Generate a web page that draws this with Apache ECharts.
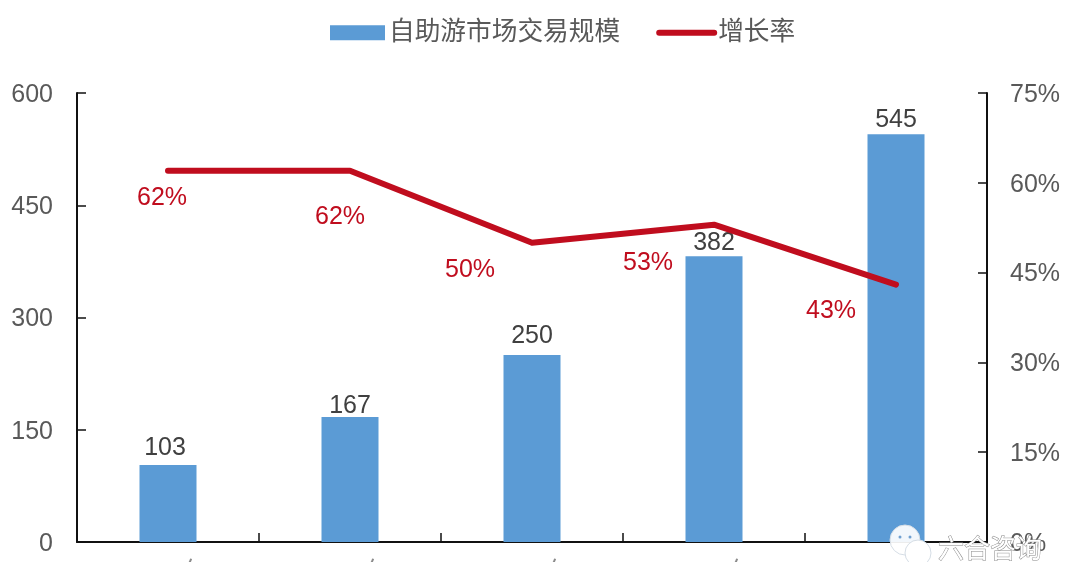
<!DOCTYPE html>
<html><head><meta charset="utf-8">
<style>html,body{margin:0;padding:0;background:#fff}#c{width:1080px;height:562px}</style>
<script src="https://cdn.jsdelivr.net/npm/echarts@6/dist/echarts.min.js"></script>
</head><body><div id="c"></div>
<script>
const categories = ['2013年','2014年','2015年','2016年','2017年'];
const marketSize = [103,167,250,382,545];
const growthRate = [62,62,50,53,43];
const rateLabelOffsets = [[-6,27],[-10,46],[-62,27],[-66,38],[-65,27]];
const barLabelOffsets = [[-3,-3],[0,3],[0,-5],[0,0],[0,-1]];

const chart = echarts.init(document.getElementById('c'));
const font = '"Liberation Sans","Noto Sans CJK SC",sans-serif';
const axisLine = {show:true,lineStyle:{color:'#111',width:2}};
const tick = {show:true,inside:true,length:9,lineStyle:{color:'#111',width:1.5}};
chart.setOption({
  animation:false,
  textStyle:{fontFamily:font},
  legend:{
    top:15,left:325,itemGap:36,itemWidth:55,itemHeight:15,
    textStyle:{fontSize:25.7,color:'#595959',fontFamily:font,padding:[0,0,0,-1]},
    data:[{name:'自助游市场交易规模',icon:'rect'},
      {name:'增长率',itemStyle:{opacity:0},lineStyle:{width:6,cap:'round',color:'#c00d1e'}}]
  },
  grid:{left:77,right:93,top:93,bottom:20,outerBoundsMode:'none'},
  xAxis:{type:'category',data:categories,
    axisLine,axisTick:tick,
    axisLabel:{fontSize:25,color:'#8c8c8c',margin:19,hideOverlap:false}},
  yAxis:[
    {type:'value',min:0,max:600,interval:150,position:'left',
      axisLine,axisTick:tick,splitLine:{show:false},
      axisLabel:{fontSize:25,color:'#595959',margin:24,verticalAlign:'top',lineHeight:4}},
    {type:'value',min:0,max:75,interval:15,position:'right',
      axisLine,axisTick:tick,splitLine:{show:false},
      axisLabel:{fontSize:25,color:'#595959',margin:23,verticalAlign:'top',lineHeight:4,formatter:'{value}%'}}
  ],
  series:[
    {name:'自助游市场交易规模',type:'bar',barWidth:57,
      data:marketSize.map((v,i)=>({value:v,label:{show:true,position:'top',distance:1,offset:barLabelOffsets[i],fontSize:25,color:'#404040'}})),
      itemStyle:{color:'#5b9bd5'}},
    {name:'增长率',type:'line',yAxisIndex:1,data:growthRate.map((v,i)=>({value:v,
        label:{show:true,position:'inside',offset:rateLabelOffsets[i],formatter:'{c}%',fontSize:25,color:'#c00d1e'}})),
      symbol:'circle',symbolSize:1,showSymbol:true,
      lineStyle:{color:'#c00d1e',width:6,cap:'round',join:'round'},
      itemStyle:{color:'#c00d1e'},z:5}
  ],
  graphic:[
    {type:'circle',shape:{cx:905,cy:540,r:15},style:{fill:'rgba(255,255,255,0.92)',stroke:'#d5dde5',lineWidth:1},z:20},
    {type:'circle',shape:{cx:900,cy:537,r:1.5},style:{fill:'#6f9fd0'},z:20},
    {type:'circle',shape:{cx:910,cy:537,r:1.5},style:{fill:'#6f9fd0'},z:20},
    {type:'circle',shape:{cx:918,cy:553,r:13},style:{fill:'#fff',stroke:'#d5dde5',lineWidth:1},z:21},
    {type:'text',style:{x:938,y:535,text:'六合咨询',fontSize:26,fill:'#ffffff',stroke:'#8a8a8a',lineWidth:1,fontFamily:'"Noto Sans CJK SC",sans-serif'},z:22}
  ]
});
</script></body></html>
